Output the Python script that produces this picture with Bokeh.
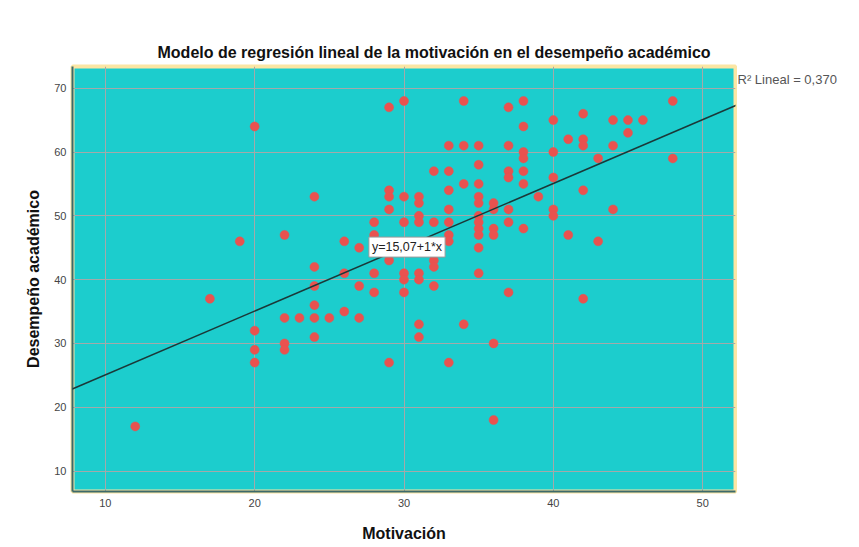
from bokeh.plotting import figure
from bokeh.models import Label, Slope, Title, FixedTicker, Range1d
from bokeh.layouts import row
from bokeh.core.properties import value
from bokeh.embed import file_html
from bokeh.resources import INLINE

# ---- data ----
motivacion = [12, 17, 19,
              20, 20, 20, 20,
              22, 22, 22, 22, 23,
              24, 24, 24, 24, 24, 24, 25,
              26, 26, 26, 27, 27, 27,
              28, 28, 28, 28,
              29, 29, 29, 29, 29, 29,
              30, 30, 30, 30, 30, 30,
              31, 31, 31, 31, 31, 31, 31, 31,
              32, 32, 32, 32, 32,
              33, 33, 33, 33, 33, 33, 33, 33,
              34, 34, 34, 34,
              35, 35, 35, 35, 35, 35, 35, 35, 35, 35, 35,
              36, 36, 36, 36, 36, 36,
              37, 37, 37, 37, 37, 37, 37,
              38, 38, 38, 38, 38, 38, 38,
              39,
              40, 40, 40, 40, 40,
              41, 41,
              42, 42, 42, 42, 42,
              43, 43,
              44, 44, 44,
              45, 45, 46, 48, 48]
desempeno = [17, 37, 46,
             64, 32, 29, 27,
             47, 34, 30, 29, 34,
             53, 42, 39, 36, 34, 31, 34,
             46, 41, 35, 45, 39, 34,
             49, 47, 41, 38,
             67, 54, 53, 51, 43, 27,
             68, 53, 49, 41, 40, 38,
             53, 52, 50, 49, 41, 40, 33, 31,
             57, 49, 43, 42, 39,
             61, 57, 54, 51, 49, 47, 46, 27,
             68, 61, 55, 33,
             61, 58, 55, 53, 52, 50, 49, 48, 47, 45, 41,
             52, 51, 48, 47, 30, 18,
             67, 61, 57, 56, 51, 49, 38,
             68, 64, 60, 59, 57, 55, 48,
             53,
             65, 60, 56, 51, 50,
             62, 47,
             66, 62, 61, 54, 37,
             59, 46,
             65, 61, 51,
             65, 63, 65, 68, 59]
x_ticks = [10, 20, 30, 40, 50]
y_ticks = [10, 20, 30, 40, 50, 60, 70]
intercept = 15.07
slope = 1.0
r2_text = "R\u00b2 Lineal = 0,370"
eq_text = "y=15,07+1*x"
title_text = "Modelo de regresión lineal de la motivación en el desempeño académico"

FONT = "Liberation Sans"
H = 545

p = figure(width=737, height=H, output_backend="svg", toolbar_location=None,
           x_range=Range1d(7.8, 52.2), y_range=Range1d(6.8, 73.4),
           min_border_left=72, min_border_right=2, min_border_top=66,
           min_border_bottom=54)

p.background_fill_color = "#1ccdcd"
p.border_fill_color = "white"
p.outline_line_color = "#fbe6a4"
p.outline_line_width = 4

t = Title(text=title_text, align="left", offset=85, text_font=FONT,
          text_font_size="16px", text_font_style="bold", text_color="#111111",
          standoff=11)
p.add_layout(t, "above")

for ax in (p.xaxis[0], p.yaxis[0]):
    ax.axis_line_color = "#3d6a6a"
    ax.axis_line_width = 2
    ax.major_tick_line_color = None
    ax.minor_tick_line_color = None
    ax.major_tick_out = 0
    ax.major_tick_in = 0
    ax.minor_tick_out = 0
    ax.minor_tick_in = 0
    ax.major_label_text_font = FONT
    ax.major_label_text_font_size = "11px"
    ax.major_label_text_color = "#444444"
    ax.axis_label_text_font = FONT
    ax.axis_label_text_font_size = "16px"
    ax.axis_label_text_font_style = "bold"
    ax.axis_label_text_color = "#111111"

p.xaxis.ticker = FixedTicker(ticks=x_ticks)
p.yaxis.ticker = FixedTicker(ticks=y_ticks)
p.xaxis.axis_label = "Motivación"
p.yaxis.axis_label = "Desempeño académico"
p.xaxis.major_label_standoff = 7
p.xaxis.axis_label_standoff = 15
p.yaxis.major_label_standoff = 6
p.yaxis.axis_label_standoff = 9

p.grid.grid_line_color = "#a3a9a9"
p.grid.grid_line_width = 1
p.xgrid.ticker = FixedTicker(ticks=x_ticks)
p.ygrid.ticker = FixedTicker(ticks=y_ticks)

p.scatter(motivacion, desempeno, size=9, fill_color="#e9524f",
          line_color="#e9524f", line_width=0.5)

p.add_layout(Slope(gradient=slope, y_intercept=intercept,
                   line_color="#1b3838", line_width=1.5))

p.add_layout(Label(x=27.65, y=45.1, text=eq_text, text_font=FONT,
                   text_font_size="12.5px", text_color="#222222",
                   text_baseline="middle", text_align="left",
                   background_fill_color="white", border_line_color="#9a9a9a",
                   border_line_width=1, padding=3))

# side strip holding the R^2 note, sharing the vertical scale of the chart
side = figure(width=115, height=H, output_backend="svg", toolbar_location=None,
              x_range=Range1d(0, 1), y_range=p.y_range,
              x_axis_type=None, y_axis_type=None,
              min_border_left=0, min_border_right=0, min_border_top=66,
              min_border_bottom=54)
side.outline_line_color = None
side.grid.visible = False
side.background_fill_color = "white"
side.text(x=[0.0], y=[71.3], text=[r2_text], text_font=value(FONT),
          text_font_size="13px", text_color="#555555",
          text_baseline="middle", text_align="left")

layout = row(p, side, spacing=0)

open("out.html", "w").write(file_html(layout, INLINE))
